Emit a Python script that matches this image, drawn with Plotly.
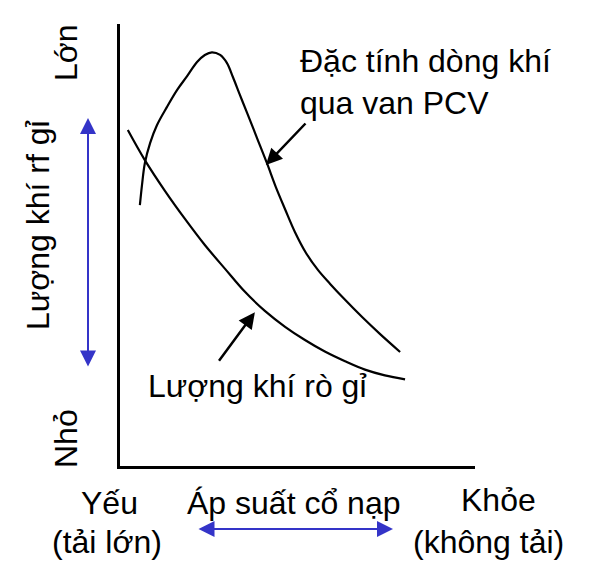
import plotly.graph_objects as go

# PCV valve flow characteristic (x: intake manifold pressure, y: gas amount), arbitrary units 0-100
pcv_x = [5.6, 6.2, 7.0, 8.5, 10.4, 13.2, 16.1, 18.9, 21.7, 23.9, 25.9, 28.2, 30.1, 31.8,
         33.8, 35.8, 38.6, 41.4, 43.9, 46.5, 49.3, 52.4, 55.8, 59.2, 63.4, 68.2, 73.2, 78.9]
pcv_y = [59.0, 63.6, 68.5, 73.1, 77.1, 81.2, 85.1, 88.2, 91.4, 93.0, 93.6, 93.0, 91.2, 88.0,
         83.9, 79.9, 74.2, 68.5, 63.1, 58.1, 52.9, 48.2, 44.3, 41.2, 37.6, 33.7, 29.9, 25.8]

# Blow-by gas amount
leak_x = [2.2, 7.0, 12.7, 18.3, 23.9, 29.6, 35.2, 40.8, 46.5, 52.1, 57.7, 63.4, 69.0, 74.6, 80.3]
leak_y = [76.0, 69.2, 62.2, 55.9, 50.0, 44.6, 39.4, 35.1, 31.5, 28.5, 25.9, 23.7, 21.8, 20.5, 19.6]

# Text labels
label_pcv = "Đặc tính dòng khí<br>qua van PCV"
label_leak = "Lượng khí rò gỉ"
y_title = "Lượng khí rf gỉ"
y_high = "Lớn"
y_low = "Nhỏ"
x_title = "Áp suất cổ nạp"
x_low = ["Yếu", "(tải lớn)"]
x_high = ["Khỏe", "(không tải)"]

FONT = "Liberation Sans, Arial, sans-serif"
FS = 32
BLUE = "#3434C8"

fig = go.Figure()
fig.add_trace(go.Scatter(x=pcv_x, y=pcv_y, mode="lines",
                         line=dict(color="black", width=2.2, shape="spline"),
                         hoverinfo="skip", showlegend=False))
fig.add_trace(go.Scatter(x=leak_x, y=leak_y, mode="lines",
                         line=dict(color="black", width=2.2, shape="spline"),
                         hoverinfo="skip", showlegend=False))

# page body has an 8px margin, so the figure is slightly smaller than the window
W, H = 592, 578
L, R, T, B = 112, 125, 16, 120
pw, ph = W - L - R, H - T - B


def px(xs):  # screen x -> paper
    return (xs - 120) / pw


def py(ys):  # screen y -> paper
    return (466 - ys) / ph


ann = []


def text(t, xs, ys, angle=0, xanchor="center", align="center"):
    ann.append(dict(text=t, x=px(xs), y=py(ys), xref="paper", yref="paper",
                    showarrow=False, textangle=angle, xanchor=xanchor, yanchor="middle",
                    align=align, font=dict(family=FONT, size=FS, color="black")))


text(y_high, 66, 53, angle=-90)
text(y_low, 66, 439, angle=-90)
text(y_title, 38, 225, angle=-90)
text(label_pcv, 298, 82, xanchor="left", align="left")
text(label_leak, 257, 386)
text(x_low[0], 109, 503)
text(x_low[1], 107, 542)
text(x_title, 293, 503)
text(x_high[0], 499, 500)
text(x_high[1], 488, 542)

# black pointer arrows (head at curve, tail offset in pixels)
ann.append(dict(x=41.1, y=68.1, xref="x", yref="y", ax=41, ay=-43, text="",
                showarrow=True, arrowhead=2, arrowsize=1.3, arrowwidth=2.5,
                arrowcolor="black", standoff=0))
ann.append(dict(x=38.0, y=34.8, xref="x", yref="y", ax=-37, ay=50, text="",
                showarrow=True, arrowhead=2, arrowsize=1.3, arrowwidth=2.5,
                arrowcolor="black", standoff=0))

# blue double-headed arrows
ann.append(dict(x=px(88), y=py(118), xref="paper", yref="paper", ax=0, ay=250, text="",
                showarrow=True, arrowhead=2, startarrowhead=2, arrowside="end+start",
                arrowsize=1.6, startarrowsize=1.6, arrowwidth=2, arrowcolor=BLUE,
                standoff=0, startstandoff=0))
ann.append(dict(x=px(393), y=py(529), xref="paper", yref="paper", ax=-196, ay=0, text="",
                showarrow=True, arrowhead=2, startarrowhead=2, arrowside="end+start",
                arrowsize=1.6, startarrowsize=1.6, arrowwidth=2, arrowcolor=BLUE,
                standoff=0, startstandoff=0))

fig.update_layout(
    width=W, height=H,
    margin=dict(l=L, r=R, t=T, b=B, pad=0),
    paper_bgcolor="white", plot_bgcolor="white",
    annotations=ann,
    xaxis=dict(range=[0, 100], showline=True, linecolor="black", linewidth=2.5,
               showgrid=False, zeroline=False, showticklabels=False, ticks="", fixedrange=True),
    yaxis=dict(range=[0, 100], showline=True, linecolor="black", linewidth=2.5,
               showgrid=False, zeroline=False, showticklabels=False, ticks="", fixedrange=True),
)

fig.write_html("out.html")
